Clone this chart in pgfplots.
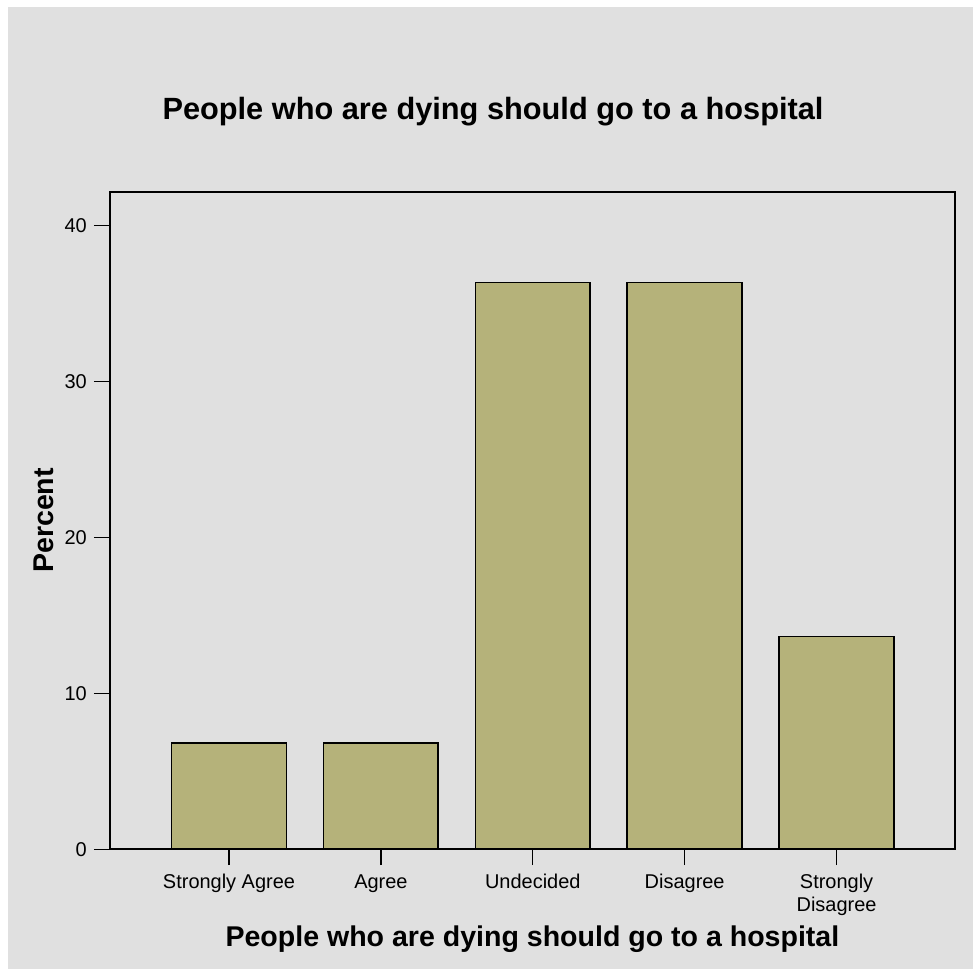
\documentclass[border=0pt]{standalone}
\usepackage{pgfplots}
\pgfplotsset{compat=1.18}
\usepackage{fontspec}
\setmainfont{Liberation Sans}
\definecolor{bggray}{RGB}{224,224,224}
\definecolor{barcol}{RGB}{181,178,122}
\begin{document}
\begin{tikzpicture}
% page: 973 x 969 px at 0.5pt per px
\fill[white] (0,0) rectangle (486.5pt,484.5pt);
\fill[bggray] (4pt,-1pt) rectangle (487.5pt,481pt);
\node[font=\fontsize{15.4}{18}\selectfont\bfseries] at (247pt,428.5pt) {People who are dying should go to a hospital};
\begin{axis}[
  at={(55pt,59pt)}, anchor=south west,
  scale only axis,
  width=423.5pt, height=329.5pt,
  ybar, bar width=57.5pt,
  xmin=-0.785, xmax=4.78,
  ymin=0, ymax=42.18,
  xtick=data,
  xticklabels={Strongly Agree, Agree, Undecided, Disagree, {Strongly\\Disagree}},
  ytick={0,10,20,30,40},
  tick pos=left,
  tick align=outside,
  major tick length=8pt,
  axis line style={line width=0.9pt},
  every tick/.style={black, line width=0.7pt},
  tick label style={font=\fontsize{10}{11.5}\selectfont},
  xticklabel style={align=center, yshift=-1pt},
  /pgf/number format/assume math mode=true,
  xlabel={People who are dying should go to a hospital},
  ylabel={Percent},
  xlabel style={font=\fontsize{14.3}{16}\selectfont\bfseries, at={(axis description cs:0.5,0)}, anchor=center, yshift=-45pt},
  ylabel style={font=\fontsize{14.3}{16}\selectfont\bfseries, at={(axis description cs:0,0.5)}, anchor=center, yshift=33pt},
]
\addplot[fill=barcol, draw=black, line width=0.8pt] coordinates {(0,6.82) (1,6.82) (2,36.36) (3,36.36) (4,13.64)};
\end{axis}
\useasboundingbox (0,0) rectangle (486.5pt,484.5pt);
\end{tikzpicture}
\end{document}
